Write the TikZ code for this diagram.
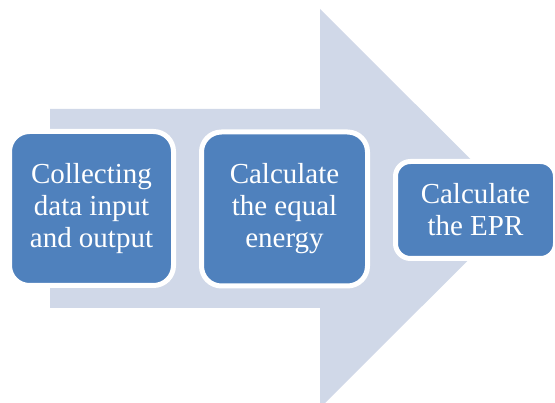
\documentclass[tikz,border=0pt]{standalone}
\usepackage{fontspec}
\setmainfont{Liberation Serif}
\definecolor{boxblue}{HTML}{4F81BD}
\definecolor{arrowgray}{HTML}{D0D8E8}
\tikzset{
  stepbox/.style={rectangle, rounded corners=20pt, fill=boxblue, draw=white, line width=5pt,
    text=white, align=center, inner sep=0pt,
    font=\fontsize{29pt}{32pt}\selectfont}
}
\begin{document}
\begin{tikzpicture}[x=1pt,y=1pt]
\useasboundingbox (0,0) rectangle (555,403);
\begin{scope}
\clip (0,0) rectangle (555,403);
\fill[arrowgray] (50,294) -- (320,294) -- (320,394) -- (520,194.5) -- (320,-5) -- (320,95) -- (50,95) -- cycle;
\node[stepbox, minimum width=164pt, minimum height=154pt] (b1) at (91.5,194.5) {Collecting\\data input\\and output};
\node[stepbox, minimum width=166pt, minimum height=154pt] (b2) at (284.5,194) {Calculate\\the equal\\energy};
\node[stepbox, rounded corners=15pt, minimum width=160pt, minimum height=97pt] (b3) at (475.5,193) {Calculate\\the EPR};
\end{scope}
\end{tikzpicture}
\end{document}
